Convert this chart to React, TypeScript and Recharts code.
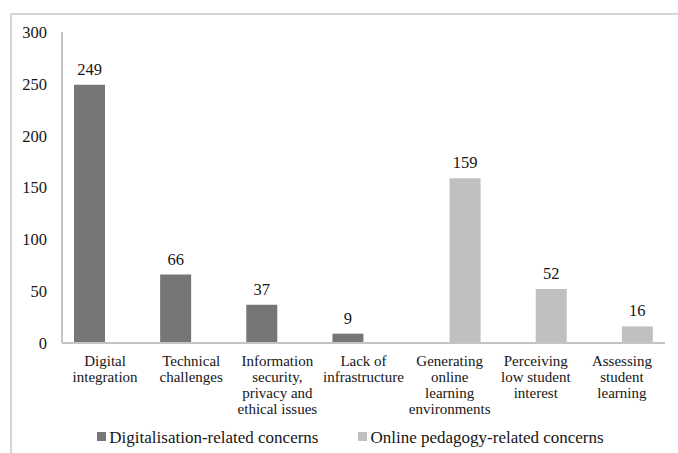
import { BarChart, Bar, XAxis, YAxis, Legend, LabelList } from "recharts";

const categories = [
  "Digital\nintegration",
  "Technical\nchallenges",
  "Information\nsecurity,\nprivacy and\nethical issues",
  "Lack of\ninfrastructure",
  "Generating\nonline\nlearning\nenvironments",
  "Perceiving\nlow student\ninterest",
  "Assessing\nstudent\nlearning",
];
const digitalisation = [249, 66, 37, 9, null, null, null];
const pedagogy = [null, null, null, null, 159, 52, 16];
const yTicks = [0, 50, 100, 150, 200, 250, 300];

const data = categories.map((name, i) => ({
  name,
  digital: digitalisation[i],
  pedagogy: pedagogy[i],
}));

const FONT = "Liberation Serif, DejaVu Serif, serif";
const TEXT = "#161616";
const DARK = "#767676";
const LIGHT = "#c0c0c0";
const AXIS = "#c4c4c4";

function CategoryTick({ x, y, payload }: any) {
  const lines = String(payload.value).split("\n");
  return (
    <text x={x} y={y} textAnchor="middle" fill={TEXT} style={{ fontFamily: FONT, fontSize: 15 }}>
      {lines.map((line, i) => (
        <tspan key={i} x={x} dy={i === 0 ? 15 : 16}>
          {line}
        </tspan>
      ))}
    </text>
  );
}

function renderLegend({ payload }: any) {
  return (
    <div
      style={{
        display: "flex",
        justifyContent: "center",
        gap: 40,
        height: 30,
        paddingLeft: 26,
        fontFamily: FONT,
        fontSize: 17,
        color: TEXT,
      }}
    >
      {(payload || []).map((p: any) => (
        <div key={p.value} style={{ display: "flex", alignItems: "center" }}>
          <span
            style={{
              width: 9,
              height: 9,
              background: p.color,
              marginRight: 3,
              marginTop: -4,
            }}
          />
          <span>{p.value}</span>
        </div>
      ))}
    </div>
  );
}

export default function App() {
  return (
    <div style={{ position: "relative", width: 678, height: 453, background: "#fff", fontFamily: FONT }}>
      <style>{"body{margin:0} .recharts-text{font-family:'Liberation Serif','DejaVu Serif',serif}"}</style>
      <div
        style={{
          position: "absolute",
          left: 10,
          top: 13,
          width: 668,
          height: 440,
          borderLeft: "2px solid #d6d6d6",
          borderTop: "2px solid #d6d6d6",
          boxSizing: "border-box",
        }}
      />
      <BarChart
        width={678}
        height={453}
        data={data}
        margin={{ top: 32, right: 13, left: 10, bottom: 0 }}
        barSize={31}
        barGap={0}
        style={{ position: "absolute", left: 0, top: 0 }}
      >
        <XAxis
          dataKey="name"
          interval={0}
          height={80}
          tickLine={false}
          axisLine={{ stroke: AXIS, strokeWidth: 2 }}
          tick={<CategoryTick />}
        />
        <YAxis
          domain={[0, 300]}
          ticks={yTicks}
          width={52}
          tickLine={false}
          tickMargin={9}
          axisLine={{ stroke: AXIS, strokeWidth: 2 }}
          tick={{ fill: TEXT, fontSize: 16.5 }}
        />
        <Legend verticalAlign="bottom" height={30} content={renderLegend} />
        <Bar
          dataKey="digital"
          name="Digitalisation-related concerns"
          fill={DARK}
          isAnimationActive={false}
        >
          <LabelList dataKey="digital" position="top" offset={10} fill={TEXT} fontSize={16.5} />
        </Bar>
        <Bar
          dataKey="pedagogy"
          name="Online pedagogy-related concerns"
          fill={LIGHT}
          isAnimationActive={false}
        >
          <LabelList dataKey="pedagogy" position="top" offset={10} fill={TEXT} fontSize={16.5} />
        </Bar>
      </BarChart>
    </div>
  );
}
